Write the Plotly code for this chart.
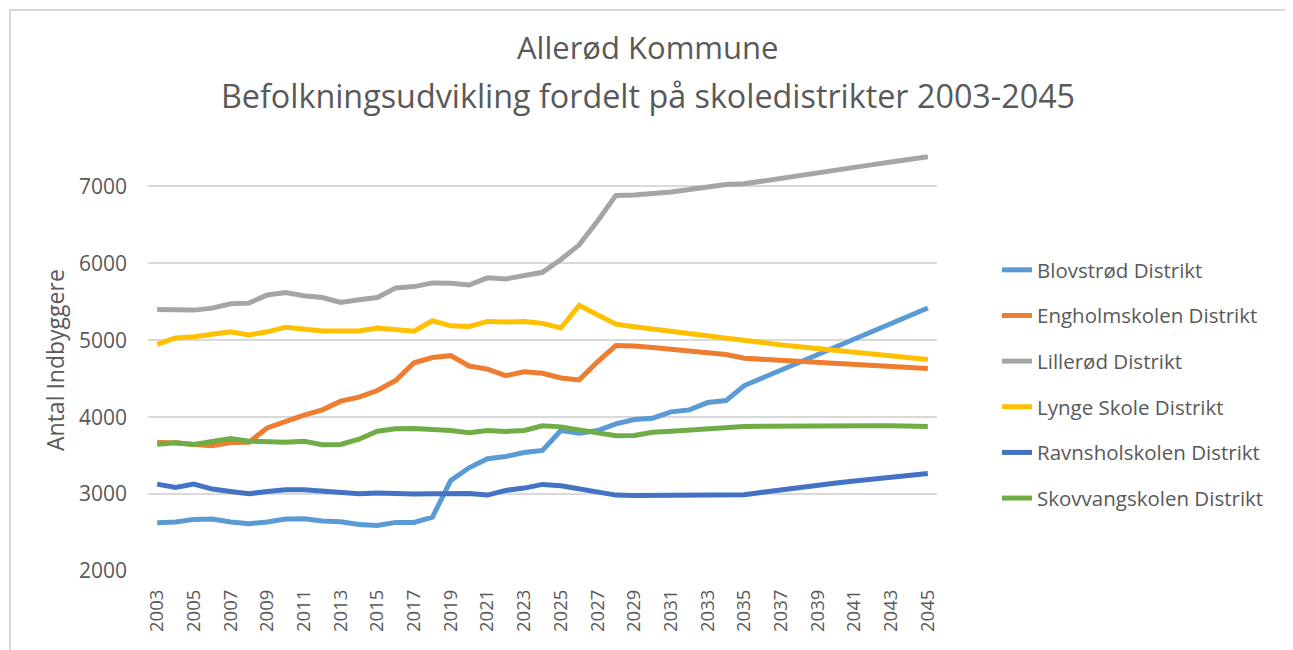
import plotly.graph_objects as go

years = list(range(2003, 2046))

blovstrod = [2628, 2636, 2671, 2675, 2636, 2615, 2636, 2675, 2680, 2649, 2641, 2606, 2593, 2632, 2632, 2701,
             3177, 3342, 3459, 3489, 3541, 3567, 3827, 3792, 3827, 3913, 3970, 3987, 4069, 4095, 4190, 4216,
             4411, 4512, 4613, 4714, 4816, 4918, 5018, 5118, 5219, 5320, 5420]
engholm = [3671, 3667, 3645, 3630, 3671, 3675, 3861, 3948, 4026, 4095, 4208, 4260, 4346, 4476, 4707, 4776,
           4800, 4665, 4625, 4540, 4590, 4570, 4510, 4485, 4720, 4931, 4927, 4905, 4879, 4858, 4832, 4815,
           4766, 4753, 4740, 4726, 4713, 4699, 4686, 4672, 4659, 4645, 4632]
lillerod = [5401, 5397, 5392, 5418, 5474, 5483, 5590, 5621, 5578, 5556, 5491, 5526, 5556, 5681, 5698, 5746,
            5741, 5718, 5812, 5797, 5842, 5884, 6050, 6241, 6552, 6884, 6888, 6905, 6927, 6961, 6991, 7026,
            7034, 7072, 7109, 7145, 7180, 7214, 7249, 7284, 7318, 7352, 7385]
lynge = [4948, 5030, 5045, 5070, 5110, 5070, 5110, 5170, 5140, 5122, 5122, 5122, 5160, 5145, 5118, 5254,
         5188, 5180, 5245, 5238, 5245, 5220, 5160, 5453, 5336, 5210, 5175, 5145, 5110, 5088, 5060, 5030,
         4987, 4965, 4940, 4915, 4893, 4870, 4847, 4822, 4797, 4772, 4749]
ravnsholm = [3130, 3087, 3130, 3065, 3035, 3004, 3035, 3056, 3056, 3039, 3026, 3004, 3013, 3004, 3000, 3004,
             3000, 3009, 2987, 3048, 3078, 3126, 3108, 3069, 3026, 2987, 2983, 2983, 2983, 2987, 2987, 2991,
             2991, 3025, 3058, 3088, 3116, 3143, 3170, 3197, 3223, 3246, 3268]
skovvang = [3649, 3667, 3645, 3688, 3723, 3688, 3675, 3675, 3688, 3641, 3645, 3714, 3818, 3848, 3853, 3848,
            3827, 3797, 3827, 3814, 3827, 3887, 3874, 3835, 3797, 3758, 3762, 3805, 3818, 3835, 3853, 3870,
            3879, 3883, 3886, 3888, 3889, 3889, 3889, 3888, 3887, 3884, 3880]

series_names = ["Blovstrød Distrikt", "Engholmskolen Distrikt", "Lillerød Distrikt",
                "Lynge Skole Distrikt", "Ravnsholskolen Distrikt", "Skovvangskolen Distrikt"]
series_values = [blovstrod, engholm, lillerod, lynge, ravnsholm, skovvang]
colors = ["#5B9BD5", "#ED7D31", "#A5A5A5", "#FFC000", "#4472C4", "#70AD47"]

title_lines = ["Allerød Kommune", "Befolkningsudvikling fordelt på skoledistrikter 2003-2045"]
y_title = "Antal Indbyggere"
y_ticks = [2000, 3000, 4000, 5000, 6000, 7000]
x_ticks = list(range(2003, 2046, 2))

FONT = "Open Sans, Liberation Sans, sans-serif"
TXT = "#595959"

# plot area (page px, after the 8px body offset): x 148..937, y 148..571
PL, PR, PT, PB = 148, 937, 148, 571
PW, PH = PR - PL, PB - PT


def px(xp):
    return (xp - PL) / PW


def py(yp):
    return (PB - yp) / PH


fig = go.Figure()
for name, vals, col in zip(series_names, series_values, colors):
    fig.add_trace(go.Scatter(
        x=years, y=vals, name=name, mode="lines", legendgroup=name,
        line=dict(color=col, width=5),
    ))

annotations = [
    dict(text=title_lines[0], x=px(647), y=py(47), xref="paper", yref="paper",
         xanchor="center", yanchor="middle", showarrow=False,
         font=dict(family=FONT, size=31, color=TXT)),
    dict(text=title_lines[1], x=px(648), y=py(95), xref="paper", yref="paper",
         xanchor="center", yanchor="middle", showarrow=False,
         font=dict(family=FONT, size=32.3, color=TXT)),
    dict(text=y_title, x=px(55), y=py(360), xref="paper", yref="paper",
         xanchor="center", yanchor="middle", showarrow=False, textangle=-90,
         font=dict(family=FONT, size=23, color=TXT)),
]

fig.update_layout(
    width=1293, height=650,
    paper_bgcolor="white", plot_bgcolor="white",
    margin=dict(l=140, r=364, t=140, b=87),
    font=dict(family=FONT, color=TXT),
    showlegend=True,
    legend=dict(x=px(997), y=py(384), xanchor="left", yanchor="middle",
                font=dict(family=FONT, size=20.5, color=TXT),
                tracegroupgap=16, bgcolor="rgba(0,0,0,0)"),
    xaxis=dict(range=[2002.5, 2045.5], tickmode="array", tickvals=x_ticks,
               ticktext=[str(v) for v in x_ticks], tickangle=-90,
               tickfont=dict(size=18.5, color=TXT), showgrid=False, zeroline=False,
               showline=False, ticks="", ticklabelstandoff=14),
    yaxis=dict(range=[2000, 7500], tickmode="array", tickvals=y_ticks,
               tickfont=dict(size=21, color=TXT), showgrid=True, gridcolor="#D9D9D9",
               gridwidth=1.5, zeroline=False, showline=False, ticks="",
               ticklabelstandoff=20),
    annotations=annotations,
    shapes=[dict(type="rect", xref="paper", yref="paper",
                 x0=px(10), x1=px(1320), y0=py(680), y1=py(10),
                 line=dict(color="#D9D9D9", width=2), fillcolor="rgba(0,0,0,0)", layer="below")],
)

fig.write_html("out.html")
